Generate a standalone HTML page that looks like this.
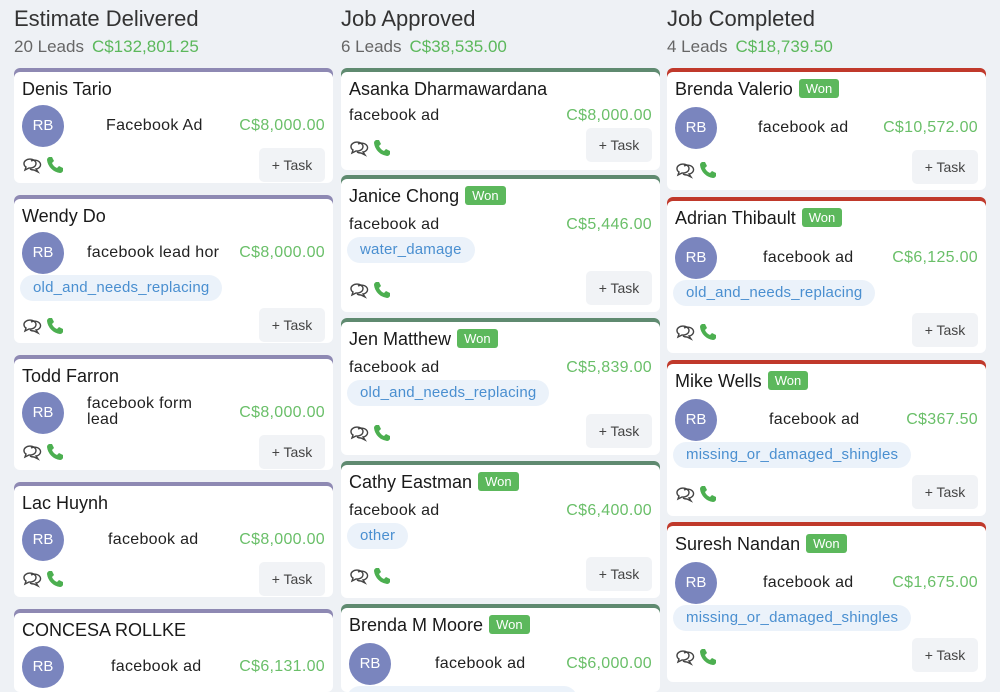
<!DOCTYPE html>
<html style="width:1000px;height:692px;overflow:hidden"><head><meta charset="utf-8"><style>
*{margin:0;padding:0;box-sizing:border-box}
body{width:1000px;height:692px;overflow:hidden;background:#eef1f5;font-family:"Liberation Sans",sans-serif;position:relative;color:#1a1a1a}
.h{position:absolute;font-size:22px;color:#333;line-height:26px;top:6px}
.s{position:absolute;font-size:17px;line-height:20px;top:37px;color:#666}
.s b{font-weight:normal;color:#5cb85c;margin-left:8px}
.c{position:absolute;width:319px;background:#fff;border-radius:6px;box-shadow:inset 0 4px 0 var(--k);overflow:hidden}
.c>*{position:absolute}
.n{left:8px;font-size:18px;line-height:20px;white-space:nowrap}
.w{display:inline-block;background:#5cb85c;color:#fff;font-size:13px;line-height:19px;padding:0 7px;border-radius:3px;margin-left:6px;vertical-align:2px}
.av{left:8px;width:42px;height:42px;border-radius:50%;background:#7a85be;color:#fff;font-size:15px;line-height:42px;text-align:center}
.src{font-size:16px;line-height:20px;color:#222;white-space:nowrap;letter-spacing:.3px}
.amt{right:8px;font-size:16px;line-height:20px;color:#6abf69;letter-spacing:.3px}
.tag{left:6px;height:26px;line-height:26px;padding:0 13px;border-radius:13px;background:#ebf2fa;color:#4a8fd0;font-size:15px;letter-spacing:.2px}
.ic{left:8px;width:46px;height:20px}
.t{right:8px;width:66px;height:34px;background:#f1f3f6;border-radius:5px;font-size:14px;line-height:34px;text-align:center;color:#444}
</style></head><body>
<div class="h" style="left:14px">Estimate Delivered</div>
<div class="s" style="left:14px">20 Leads<b>C$132,801.25</b></div>
<div class="h" style="left:341px">Job Approved</div>
<div class="s" style="left:341px">6 Leads<b>C$38,535.00</b></div>
<div class="h" style="left:667px">Job Completed</div>
<div class="s" style="left:667px">4 Leads<b>C$18,739.50</b></div>

<svg width="0" height="0" style="position:absolute"><defs><g id="i"><path d="M2 9 a6 4.5 0 1 1 5 4 l-4 2 l1-3 a5 4 0 0 1-2-3z" fill="none" stroke="#444" stroke-width="1.4"/><path d="M9 6 a6 4.5 0 1 1 5 8 l2 3 l-4-2 a6 4.5 0 0 1-4-1" fill="none" stroke="#444" stroke-width="1.4"/><path d="M27 2 l3 0 l2 4 l-2 2 a9 9 0 0 0 5 5 l2-2 l4 2 l0 3 q-1 2-3 2 a15 15 0 0 1-13-13 q0-2 2-3z" fill="#4caf50"/></g></defs></svg>

<!-- col1 -->
<div class="c" style="--k:#8e89b3;left:14px;top:68px;height:115px"><div class="n" style="top:11px">Denis Tario</div><div class="av" style="top:37px">RB</div><div class="src" style="left:92px;top:48px">Facebook Ad</div><div class="amt" style="top:48px">C$8,000.00</div><svg class="ic" style="top:87px"><use href="#i"/></svg><div class="t" style="top:80px">+ Task</div></div>
<div class="c" style="--k:#8e89b3;left:14px;top:195px;height:148px"><div class="n" style="top:11px">Wendy Do</div><div class="av" style="top:37px">RB</div><div class="src" style="left:73px;top:48px;width:136px;overflow:hidden">facebook lead hor</div><div class="amt" style="top:48px">C$8,000.00</div><div class="tag" style="top:80px">old_and_needs_replacing</div><svg class="ic" style="top:121px"><use href="#i"/></svg><div class="t" style="top:113px">+ Task</div></div>
<div class="c" style="--k:#8e89b3;left:14px;top:355px;height:115px"><div class="n" style="top:11px">Todd Farron</div><div class="av" style="top:37px">RB</div><div class="src" style="left:73px;top:41px;line-height:16px">facebook form<br>lead</div><div class="amt" style="top:48px">C$8,000.00</div><svg class="ic" style="top:87px"><use href="#i"/></svg><div class="t" style="top:80px">+ Task</div></div>
<div class="c" style="--k:#8e89b3;left:14px;top:482px;height:115px"><div class="n" style="top:11px">Lac Huynh</div><div class="av" style="top:37px">RB</div><div class="src" style="left:94px;top:48px">facebook ad</div><div class="amt" style="top:48px">C$8,000.00</div><svg class="ic" style="top:87px"><use href="#i"/></svg><div class="t" style="top:80px">+ Task</div></div>
<div class="c" style="--k:#8e89b3;left:14px;top:609px;height:83px"><div class="n" style="top:11px">CONCESA ROLLKE</div><div class="av" style="top:37px">RB</div><div class="src" style="left:97px;top:48px">facebook ad</div><div class="amt" style="top:48px">C$6,131.00</div></div>

<!-- col2 -->
<div class="c" style="--k:#5f8a70;left:341px;top:68px;height:102px"><div class="n" style="top:11px">Asanka Dharmawardana</div><div class="src" style="left:8px;top:38px">facebook ad</div><div class="amt" style="top:38px">C$8,000.00</div><svg class="ic" style="top:70px"><use href="#i"/></svg><div class="t" style="top:60px">+ Task</div></div>
<div class="c" style="--k:#5f8a70;left:341px;top:175px;height:137px"><div class="n" style="top:11px">Janice Chong<span class="w">Won</span></div><div class="src" style="left:8px;top:40px">facebook ad</div><div class="amt" style="top:40px">C$5,446.00</div><div class="tag" style="top:62px">water_damage</div><svg class="ic" style="top:105px"><use href="#i"/></svg><div class="t" style="top:96px">+ Task</div></div>
<div class="c" style="--k:#5f8a70;left:341px;top:318px;height:137px"><div class="n" style="top:11px">Jen Matthew<span class="w">Won</span></div><div class="src" style="left:8px;top:40px">facebook ad</div><div class="amt" style="top:40px">C$5,839.00</div><div class="tag" style="top:62px">old_and_needs_replacing</div><svg class="ic" style="top:105px"><use href="#i"/></svg><div class="t" style="top:96px">+ Task</div></div>
<div class="c" style="--k:#5f8a70;left:341px;top:461px;height:137px"><div class="n" style="top:11px">Cathy Eastman<span class="w">Won</span></div><div class="src" style="left:8px;top:40px">facebook ad</div><div class="amt" style="top:40px">C$6,400.00</div><div class="tag" style="top:62px">other</div><svg class="ic" style="top:105px"><use href="#i"/></svg><div class="t" style="top:96px">+ Task</div></div>
<div class="c" style="--k:#5f8a70;left:341px;top:604px;height:88px"><div class="n" style="top:11px">Brenda M Moore<span class="w">Won</span></div><div class="av" style="top:39px">RB</div><div class="src" style="left:94px;top:50px">facebook ad</div><div class="amt" style="top:50px">C$6,000.00</div><div class="tag" style="top:82px;width:230px"></div></div>

<!-- col3 -->
<div class="c" style="--k:#c0392b;left:667px;top:68px;height:122px"><div class="n" style="top:11px">Brenda Valerio<span class="w">Won</span></div><div class="av" style="top:39px">RB</div><div class="src" style="left:91px;top:50px">facebook ad</div><div class="amt" style="top:50px">C$10,572.00</div><svg class="ic" style="top:92px"><use href="#i"/></svg><div class="t" style="top:82px">+ Task</div></div>
<div class="c" style="--k:#c0392b;left:667px;top:197px;height:156px"><div class="n" style="top:11px">Adrian Thibault<span class="w">Won</span></div><div class="av" style="top:40px">RB</div><div class="src" style="left:96px;top:51px">facebook ad</div><div class="amt" style="top:51px">C$6,125.00</div><div class="tag" style="top:83px">old_and_needs_replacing</div><svg class="ic" style="top:125px"><use href="#i"/></svg><div class="t" style="top:116px">+ Task</div></div>
<div class="c" style="--k:#c0392b;left:667px;top:360px;height:156px"><div class="n" style="top:11px">Mike Wells<span class="w">Won</span></div><div class="av" style="top:39px">RB</div><div class="src" style="left:102px;top:50px">facebook ad</div><div class="amt" style="top:50px">C$367.50</div><div class="tag" style="top:82px">missing_or_damaged_shingles</div><svg class="ic" style="top:124px"><use href="#i"/></svg><div class="t" style="top:115px">+ Task</div></div>
<div class="c" style="--k:#c0392b;left:667px;top:522px;height:160px"><div class="n" style="top:12px">Suresh Nandan<span class="w">Won</span></div><div class="av" style="top:40px">RB</div><div class="src" style="left:96px;top:51px">facebook ad</div><div class="amt" style="top:51px">C$1,675.00</div><div class="tag" style="top:83px">missing_or_damaged_shingles</div><svg class="ic" style="top:125px"><use href="#i"/></svg><div class="t" style="top:116px">+ Task</div></div>
</body></html>
